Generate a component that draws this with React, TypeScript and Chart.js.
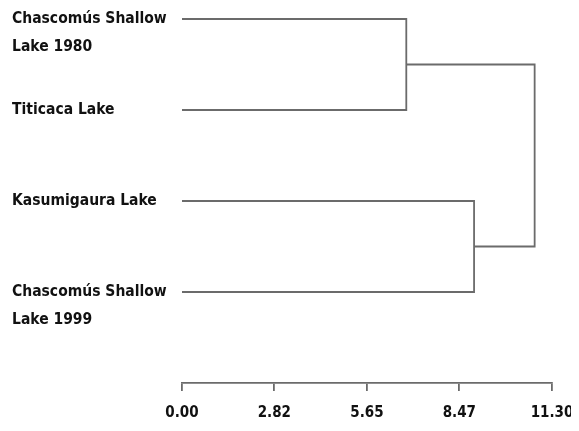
import React, { useEffect, useRef } from "react";
import { Chart, registerables } from "chart.js";

Chart.register(...registerables);

// Leaves (top to bottom) with their label lines
const leafLabels: string[][] = [
  ["Chascomús Shallow", "Lake 1980"],
  ["Titicaca Lake", ""],
  ["Kasumigaura Lake", ""],
  ["Chascomús Shallow", "Lake 1999"],
];
// Merges: node ids 0..3 are leaves, 4.. are merges in order
const mergeLeft = [0, 2, 4];
const mergeRight = [1, 3, 5];
const mergeHeight = [6.85, 8.92, 10.77];
// Axis ticks
const xTicks = [0, 2.82, 5.65, 8.47, 11.3];

const FONT = "'Liberation Sans Narrow', 'DejaVu Sans Condensed', 'Roboto Condensed', sans-serif";
const LINE = "#6b6b6b";

export default function App() {
  const ref = useRef<HTMLCanvasElement | null>(null);

  useEffect(() => {
    if (!ref.current) return;
    // node positions: x = height, y = leaf index / midpoint
    const nodeX: number[] = leafLabels.map(() => 0);
    const nodeY: number[] = leafLabels.map((_, i) => i);
    const datasets: any[] = [];
    mergeHeight.forEach((h, k) => {
      const a = mergeLeft[k];
      const b = mergeRight[k];
      datasets.push({
        data: [
          { x: nodeX[a], y: nodeY[a] },
          { x: h, y: nodeY[a] },
          { x: h, y: nodeY[b] },
          { x: nodeX[b], y: nodeY[b] },
        ],
        borderColor: LINE,
        borderWidth: 1.8,
        pointRadius: 0,
        showLine: true,
        fill: false,
        tension: 0,
        clip: false,
      });
      nodeX.push(h);
      nodeY.push((nodeY[a] + nodeY[b]) / 2);
    });

    const chart = new Chart(ref.current, {
      type: "scatter",
      data: { datasets },
      options: {
        animation: false,
        responsive: true,
        maintainAspectRatio: false,
        layout: { padding: { left: 4, top: 11, right: 0, bottom: 0 } },
        plugins: { legend: { display: false }, tooltip: { enabled: false } },
        scales: {
          x: {
            type: "linear",
            min: 0,
            max: 11.3,
            afterBuildTicks: (s: any) => {
              s.ticks = xTicks.map((v) => ({ value: v }));
            },
            afterFit: (s: any) => {
              s.height = 40;
              s.paddingLeft = 0;
              s.paddingRight = 26;
            },
            ticks: {
              callback: (v: any) => Number(v).toFixed(2),
              color: "#111",
              font: { family: FONT, size: 15, weight: "bold", lineHeight: 1.2 },
              padding: 13,
              maxRotation: 0,
              autoSkip: false,
            },
            grid: {
              drawOnChartArea: false,
              drawTicks: true,
              tickLength: 8,
              color: LINE,
              lineWidth: 1.8,
            },
            border: { display: true, color: LINE, width: 1.8 },
          },
          y: {
            type: "linear",
            min: 0,
            max: 4,
            reverse: true,
            afterBuildTicks: (s: any) => {
              s.ticks = leafLabels.map((_, i) => ({ value: i }));
            },
            afterFit: (s: any) => {
              s.width = 170;
              s.paddingTop = 0;
              s.paddingBottom = 0;
            },
            ticks: {
              callback: (v: any) => leafLabels[Number(v)],
              crossAlign: "far",
              labelOffset: 14,
              color: "#111",
              font: { family: FONT, size: 15.5, weight: "bold", lineHeight: 1.8 },
              autoSkip: false,
            },
            grid: { display: false },
            border: { display: false },
          },
        },
      } as any,
    });
    return () => chart.destroy();
  }, []);

  return (
    <div style={{ position: "relative", width: 570, height: 415 }}>
      <canvas ref={ref} />
    </div>
  );
}
